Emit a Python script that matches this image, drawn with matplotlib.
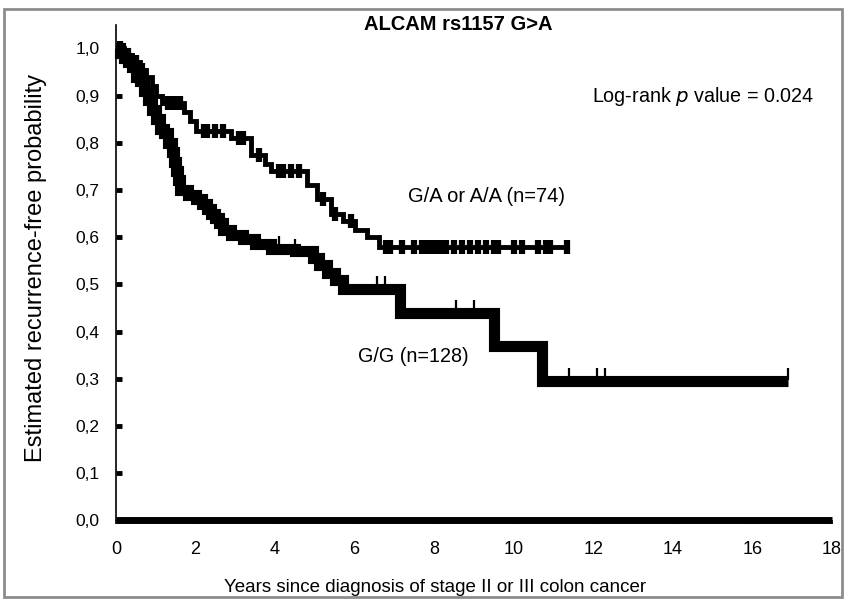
import numpy as np
import matplotlib
matplotlib.use("Agg")
import matplotlib.pyplot as plt
from matplotlib.patches import Rectangle

plt.rcParams['font.family'] = ['Liberation Sans', 'DejaVu Sans']

# ---- data ----
# G/G (n=128): step times (years) and survival after each step
gg_time = [0.0, 0.1, 0.2, 0.3, 0.4, 0.5, 0.6, 0.7, 0.8, 0.9, 1.0, 1.1, 1.2, 1.3,
           1.4, 1.45, 1.5, 1.55, 1.6, 1.8, 2.0, 2.15, 2.3, 2.4, 2.5, 2.6, 2.7,
           2.9, 3.2, 3.5, 3.9, 4.5, 4.95, 5.1, 5.3, 5.5, 5.7, 7.15, 9.5, 10.7]
gg_surv = [1.0, 0.99, 0.98, 0.97, 0.96, 0.94, 0.93, 0.91, 0.89, 0.87, 0.85, 0.83,
           0.82, 0.80, 0.78, 0.76, 0.74, 0.72, 0.70, 0.69, 0.68, 0.67, 0.66, 0.65,
           0.64, 0.63, 0.615, 0.605, 0.595, 0.585, 0.575, 0.57, 0.555, 0.54, 0.525,
           0.51, 0.49, 0.44, 0.37, 0.295]
gg_end = 16.9
gg_cens = [4.1, 4.5, 6.55, 6.75, 8.55, 9.0, 11.4, 12.1, 12.3, 16.9]

# G/A or A/A (n=74)
ga_time = [0.0, 0.2, 0.4, 0.6, 0.75, 0.9, 1.0, 1.15, 1.7, 1.85, 2.0, 2.9, 3.4,
           3.75, 3.9, 4.8, 5.05, 5.4, 5.7, 6.0, 6.3, 6.6]
ga_surv = [1.0, 0.985, 0.97, 0.955, 0.94, 0.92, 0.90, 0.885, 0.865, 0.845, 0.825,
           0.81, 0.775, 0.755, 0.74, 0.71, 0.68, 0.65, 0.635, 0.615, 0.60, 0.58]
ga_end = 11.35
ga_cens = [0.1, 0.3, 0.5, 0.65, 1.3, 1.4, 1.5, 1.6, 2.2, 2.3, 2.5, 2.7, 3.1, 3.2,
           3.6, 4.1, 4.2, 4.4, 4.6, 5.2, 5.5, 5.9, 6.8, 6.9, 7.2, 7.5, 7.7, 7.8,
           7.9, 8.0, 8.1, 8.2, 8.3, 8.5, 8.7, 8.9, 9.1, 9.3, 9.5, 9.6, 10.0, 10.2,
           10.6, 10.8, 10.9, 11.35]

x_ticks = [0, 2, 4, 6, 8, 10, 12, 14, 16, 18]
y_ticks = [0.0, 0.1, 0.2, 0.3, 0.4, 0.5, 0.6, 0.7, 0.8, 0.9, 1.0]
y_tick_labels = ['0,0', '0,1', '0,2', '0,3', '0,4', '0,5', '0,6', '0,7', '0,8', '0,9', '1,0']

title = 'ALCAM rs1157 G>A'
x_label = 'Years since diagnosis of stage II or III colon cancer'
y_label = 'Estimated recurrence-free probability'
label_gg = 'G/G (n=128)'
label_ga = 'G/A or A/A (n=74)'

# ---- figure ----
W, H = 846, 600
fig = plt.figure(figsize=(W / 100, H / 100), dpi=100)
fig.patch.set_facecolor('white')

x0, x18 = 116, 832
y0px, y1px = 520.3, 48.3
ymax = 1.05
ax = fig.add_axes([x0 / W, 1 - y0px / H, (x18 - x0) / W, (y0px - y1px) * ymax / H])
ax.set_xlim(0, 18)
ax.set_ylim(0, ymax)


def km_steps(times, surv, end):
    t = list(times) + [end]
    s = list(surv) + [surv[-1]]
    return t, s


def surv_at(times, surv, q):
    idx = np.searchsorted(np.asarray(times), np.asarray(q), side='right') - 1
    return np.asarray(surv)[idx]


# G/G curve
t, s = km_steps(gg_time, gg_surv, gg_end)
ax.step(t, s, where='post', color='black', lw=8, solid_joinstyle='miter',
        solid_capstyle='butt', clip_on=False)
ax.plot(gg_cens, surv_at(gg_time, gg_surv, gg_cens) + 0.014, ls='none',
        marker='|', ms=8, mew=1.6, color='black', clip_on=False)

# G/A or A/A curve
t, s = km_steps(ga_time, ga_surv, ga_end)
ax.step(t, s, where='post', color='black', lw=3.5, solid_joinstyle='miter',
        solid_capstyle='butt', clip_on=False)
ax.plot(ga_cens, surv_at(ga_time, ga_surv, ga_cens), ls='none',
        marker='|', ms=10, mew=4.5, color='black', clip_on=False)

# axes styling
for side in ['top', 'right']:
    ax.spines[side].set_visible(False)
ax.spines['left'].set_linewidth(1.2)
ax.spines['bottom'].set_linewidth(5)
ax.spines['bottom'].set_capstyle('butt')

ax.set_xticks(x_ticks)
ax.set_xticklabels([str(v) for v in x_ticks])
ax.set_yticks(y_ticks)
ax.set_yticklabels(y_tick_labels)
ax.tick_params(axis='y', direction='in', length=4, width=3.5, pad=12,
               labelsize=12.5, colors='black')
ax.tick_params(axis='x', direction='out', length=3, width=1.2, pad=12,
               labelsize=13, colors='black')

# texts
fig.text(458 / W, 1 - 25 / H, title, ha='center', va='center',
         fontsize=14.5, fontweight='bold')
fig.text(435 / W, 1 - 588 / H, x_label, ha='center', va='center', fontsize=13.5)
fig.text(36 / W, 1 - 268 / H, y_label, ha='center', va='center', rotation=90,
         fontsize=17)
fig.text(592 / W, 1 - 97 / H, 'Log-rank $p$ value = 0.024', ha='left',
         va='center', fontsize=14.2)
fig.text(408 / W, 1 - 197 / H, label_ga, ha='left', va='center', fontsize=14.5)
fig.text(358 / W, 1 - 357 / H, label_gg, ha='left', va='center', fontsize=14.2)

# grey frame around the figure
fig.patches.append(Rectangle((4 / W, 1 - 597 / H), 838 / W, 588 / H,
                             transform=fig.transFigure, fill=False,
                             ec='#8c8c8c', lw=2.0))

fig.savefig('out.png', dpi=100, facecolor='white')
